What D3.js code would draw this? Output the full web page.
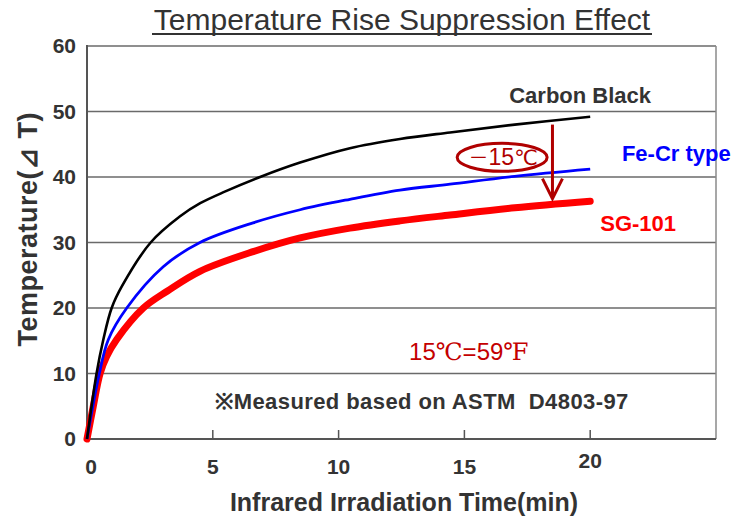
<!DOCTYPE html>
<html><head><meta charset="utf-8">
<script src="https://cdn.jsdelivr.net/npm/d3@7"></script>
<style>html,body{margin:0;padding:0;background:#fff;}svg{display:block;}</style>
</head><body>
<svg id="c" width="749" height="516"></svg>
<script>
// ---- data ----
const xTicks = [0, 5, 10, 15, 20];
const yTicks = [0, 10, 20, 30, 40, 50, 60];

const cbTime   = [0, 0.38, 0.65, 0.98, 1.4, 2.53, 3.7, 4.5, 5.5, 6.88, 8.47, 10.45, 12.44, 14.43, 17, 20];
const cbTemp   = [0, 10, 15.2, 20, 23.4, 30, 34, 36, 37.8, 40, 42.2, 44.4, 45.8, 46.8, 48.0, 49.2];

const fecrTime = [0, 0.49, 0.85, 1.58, 3.03, 4.49, 6.6, 8.47, 10.45, 12.44, 14.43, 17, 20];
const fecrTemp = [0, 10, 15.2, 20, 26.3, 30, 33.0, 35.0, 36.6, 38.0, 38.9, 40.1, 41.2];

const sgTime   = [0, 0.25, 0.52, 0.78, 1.18, 2.24, 3.2, 4.49, 6.6, 8.47, 10.45, 12.44, 14.43, 17, 20];
const sgTemp   = [0, 5, 10, 12.6, 15.2, 20, 22.6, 25.6, 28.6, 30.7, 32.2, 33.3, 34.2, 35.3, 36.3];

const seriesNames = ["Carbon Black", "Fe-Cr type", "SG-101"];
const titleText = "Temperature Rise Suppression Effect";
const xTitle = "Infrared Irradiation Time(min)";
const yTitle = "Temperature(⊿ T)";
const noteLabel = "※Measured based on ASTM  D4803-97";

// ---- chart ----
const svg = d3.select("#c");
const x = d3.scaleLinear().domain([0, 25]).range([87, 716]);
const y = d3.scaleLinear().domain([0, 60]).range([439, 46]);
const txt = "#333";
const sans = "Liberation Sans, Arial, sans-serif";

// title
svg.append("text").attr("x", 402).attr("y", 29.5).attr("text-anchor", "middle")
  .attr("font-family", sans).attr("font-size", 30)
  .attr("fill", txt).text(titleText);
svg.append("line").attr("x1", 152).attr("x2", 652).attr("y1", 34).attr("y2", 34)
  .attr("stroke", txt).attr("stroke-width", 1.8);

// gridlines
svg.append("g").selectAll("line").data(yTicks.filter(d => d > 0)).join("line")
  .attr("x1", x(0)).attr("x2", x(25)).attr("y1", d => y(d)).attr("y2", d => y(d))
  .attr("stroke", "#6a6a6a").attr("stroke-width", 1.6);

// borders
svg.append("line").attr("x1", x(25)).attr("x2", x(25)).attr("y1", y(60)).attr("y2", y(0))
  .attr("stroke", "#8a8a8a").attr("stroke-width", 1.5);
svg.append("line").attr("x1", x(0)).attr("x2", x(0)).attr("y1", y(60) - 1).attr("y2", y(0))
  .attr("stroke", "#555").attr("stroke-width", 2);
svg.append("line").attr("x1", x(0)).attr("x2", x(25)).attr("y1", y(0)).attr("y2", y(0))
  .attr("stroke", "#555").attr("stroke-width", 2);

// x ticks (inward)
svg.append("g").selectAll("line").data(xTicks.filter(d => d > 0)).join("line")
  .attr("x1", d => x(d)).attr("x2", d => x(d)).attr("y1", y(0)).attr("y2", y(0) - 9)
  .attr("stroke", "#555").attr("stroke-width", 1.5);

// tick labels
svg.append("g").selectAll("text").data(yTicks).join("text")
  .attr("x", 76).attr("y", d => y(d) + 7).attr("text-anchor", "end")
  .attr("font-family", sans).attr("font-weight", "bold").attr("font-size", 21)
  .attr("fill", txt).text(d => d);
svg.append("g").selectAll("text").data(xTicks).join("text")
  .attr("x", d => x(d) + (d === 0 ? 4 : 0)).attr("y", d => d === 20 ? 468 : 474).attr("text-anchor", "middle")
  .attr("font-family", sans).attr("font-weight", "bold").attr("font-size", 21)
  .attr("fill", txt).text(d => d);

// axis titles
svg.append("text").attr("x", 404).attr("y", 511).attr("text-anchor", "middle")
  .attr("font-family", sans).attr("font-weight", "bold").attr("font-size", 25)
  .attr("fill", txt).text(xTitle);
svg.append("text").attr("transform", "translate(37,229.5) rotate(-90)").attr("text-anchor", "middle")
  .attr("font-family", sans).attr("font-weight", "bold").attr("font-size", 27)
  .attr("textLength", 234).attr("lengthAdjust", "spacing")
  .attr("fill", txt).text(yTitle);

// lines
const line = d3.line().x(d => x(d[0])).y(d => y(d[1])).curve(d3.curveCatmullRom.alpha(0.5));
const zip = (a, b) => a.map((v, i) => [v, b[i]]);
svg.append("path").datum(zip(sgTime, sgTemp)).attr("d", line)
  .attr("fill", "none").attr("stroke", "#ff0000").attr("stroke-width", 7).attr("stroke-linecap", "round");
svg.append("path").datum(zip(fecrTime, fecrTemp)).attr("d", line)
  .attr("fill", "none").attr("stroke", "#0000ff").attr("stroke-width", 2.8);
svg.append("path").datum(zip(cbTime, cbTemp)).attr("d", line)
  .attr("fill", "none").attr("stroke", "#000").attr("stroke-width", 2.6);

// series labels
svg.append("text").attr("x", x(19.6)).attr("y", y(51.3)).attr("text-anchor", "middle")
  .attr("font-family", sans).attr("font-weight", "bold").attr("font-size", 22)
  .attr("fill", txt).text(seriesNames[0]);
svg.append("text").attr("x", x(21.26)).attr("y", y(42.4))
  .attr("font-family", sans).attr("font-weight", "bold").attr("font-size", 22)
  .attr("fill", "#0000ff").text(seriesNames[1]);
svg.append("text").attr("x", x(20.4)).attr("y", y(31.7))
  .attr("font-family", sans).attr("font-weight", "bold").attr("font-size", 22)
  .attr("fill", "#ff0000").text(seriesNames[2]);

// annotation: arrow and ellipse
const dark = "#b00000";
svg.append("line").attr("x1", x(18.5)).attr("x2", x(18.5)).attr("y1", y(48.0)).attr("y2", y(36.7))
  .attr("stroke", dark).attr("stroke-width", 3);
svg.append("path")
  .attr("d", `M${x(18.5) - 10},${y(36.7) - 20} L${x(18.5)},${y(36.7)} L${x(18.5) + 10},${y(36.7) - 20}`)
  .attr("fill", "none").attr("stroke", dark).attr("stroke-width", 3);
svg.append("ellipse").attr("cx", x(16.5)).attr("cy", y(43.0)).attr("rx", 45).attr("ry", 14)
  .attr("fill", "none").attr("stroke", dark).attr("stroke-width", 3);
const d1 = svg.append("text").attr("x", x(16.5) + 1).attr("y", y(43.0) + 8).attr("text-anchor", "middle")
  .attr("font-size", 23).attr("fill", dark);
d1.append("tspan").attr("font-family", "Noto Sans CJK JP, sans-serif").attr("font-size", 20).text("－");
d1.append("tspan").attr("font-family", sans).text("15");
d1.append("tspan").attr("font-family", "DejaVu Sans, sans-serif").attr("font-size", 21).text("℃");

// notes
const conv = svg.append("text").attr("x", x(12.8)).attr("y", y(12.1))
  .attr("font-size", 24).attr("fill", "#c40000");
conv.append("tspan").attr("font-family", sans).text("15");
conv.append("tspan").attr("font-family", "Liberation Serif, DejaVu Serif, serif").text("℃");
conv.append("tspan").attr("font-family", sans).text("=59");
conv.append("tspan").attr("font-family", "Liberation Serif, DejaVu Serif, serif").text("℉");
svg.append("text").attr("x", x(5.1)).attr("y", y(4.6)).style("white-space", "pre")
  .attr("textLength", 413).attr("lengthAdjust", "spacing")
  .attr("font-family", sans).attr("font-weight", "bold").attr("font-size", 22)
  .attr("fill", txt).text(noteLabel);
</script>
</body></html>
